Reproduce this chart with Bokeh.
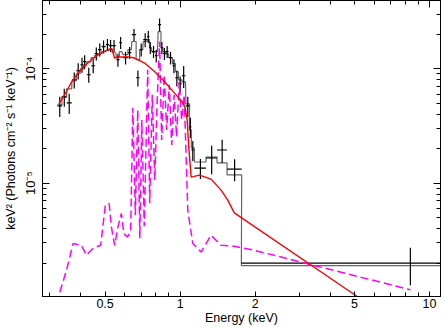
from bokeh.plotting import figure
from bokeh.models import FixedTicker, LogAxis, Range1d, CustomJSTickFormatter
from bokeh.embed import file_html
from bokeh.resources import INLINE

# ---- data (energy bins in keV, flux in keV^2 Photons cm^-2 s^-1 keV^-1) ----
e_cen = [0.329, 0.343, 0.359, 0.376, 0.390, 0.404, 0.414, 0.430, 0.448, 0.461,
         0.476, 0.493, 0.511, 0.526, 0.543, 0.563, 0.577, 0.604, 0.627, 0.653,
         0.677, 0.698, 0.724, 0.745, 0.759, 0.782, 0.802, 0.827, 0.845, 0.865,
         0.887, 0.915, 0.944, 0.970, 1.000, 1.033, 1.073, 1.099, 1.124,
         1.2055, 1.338, 1.474, 1.6535, 8.38]
e_hw = [0.007, 0.0075, 0.0085, 0.008, 0.007, 0.006, 0.006, 0.008, 0.008, 0.007,
        0.008, 0.009, 0.008, 0.008, 0.009, 0.008, 0.007, 0.014, 0.010, 0.013,
        0.011, 0.010, 0.013, 0.008, 0.006, 0.012, 0.009, 0.011, 0.008, 0.011,
        0.012, 0.015, 0.013, 0.014, 0.016, 0.017, 0.018, 0.010, 0.015,
        0.0645, 0.068, 0.068, 0.1115, 6.62]
flux = [4.74e-5, 5.68e-5, 5.03e-5, 8.01e-5, 9.60e-5, 1.084e-4, 1.152e-4, 8.86e-5, 1.062e-4, 1.354e-4,
        1.468e-4, 1.560e-4, 1.624e-4, 1.592e-4, 1.592e-4, 1.199e-4, 1.691e-4, 1.249e-4, 1.382e-4, 1.988e-4,
        8.34e-5, 1.468e-4, 1.796e-4, 1.909e-4, 1.528e-4, 1.410e-4, 1.300e-4, 2.432e-4, 1.528e-4, 1.354e-4,
        1.410e-4, 1.249e-4, 1.062e-4, 8.34e-5, 7.39e-5, 8.68e-5, 4.74e-5, 3.10e-5, 1.948e-5,
        1.354e-5, 1.658e-5, 1.948e-5, 1.327e-5, 2.0e-6]
flux_err = [0.95e-5, 1.02e-5, 1.01e-5, 1.28e-5, 1.54e-5, 1.63e-5, 1.61e-5, 1.33e-5, 1.49e-5, 1.76e-5,
            1.91e-5, 2.03e-5, 1.95e-5, 1.91e-5, 1.91e-5, 1.56e-5, 2.03e-5, 1.62e-5, 1.66e-5, 2.39e-5,
            1.33e-5, 1.91e-5, 2.51e-5, 2.29e-5, 1.83e-5, 1.69e-5, 1.69e-5, 3.16e-5, 1.83e-5, 1.62e-5,
            1.69e-5, 1.62e-5, 1.49e-5, 1.33e-5, 1.18e-5, 1.91e-5, 0.95e-5, 0.62e-5, 0.39e-5,
            0.27e-5, 0.46e-5, 0.45e-5, 0.29e-5, 0.072e-5]
model_step = [4.83e-5, 5.68e-5, 6.68e-5, 7.85e-5, 9.04e-5, 1.00e-4, 1.06e-4, 1.15e-4, 1.25e-4, 1.30e-4,
              1.35e-4, 1.41e-4, 1.45e-4, 1.48e-4, 1.38e-4, 1.27e-4, 1.41e-4, 1.33e-4, 1.47e-4, 1.73e-4,
              1.20e-4, 1.47e-4, 1.73e-4, 1.80e-4, 1.53e-4, 1.41e-4, 1.41e-4, 2.11e-4, 1.53e-4, 1.41e-4,
              1.35e-4, 1.25e-4, 1.11e-4, 9.41e-5, 8.0e-5, 7.69e-5, 4.93e-5, 2.92e-5, 2.03e-5,
              1.53e-5, 1.69e-5, 1.50e-5, 1.18e-5, 1.90e-6]

# continuum component (red)
red_e = [0.326, 0.334, 0.350, 0.366, 0.390, 0.414, 0.441, 0.469, 0.498, 0.522,
         0.532, 0.546, 0.567, 0.618, 0.657, 0.720, 0.789, 0.865, 0.949, 1.019,
         1.047, 1.067, 1.081, 1.107, 1.195, 1.330, 1.459, 1.552, 1.649, 5.06, 11.07]
red_f = [4.93e-5, 5.35e-5, 6.32e-5, 7.58e-5, 9.17e-5, 1.062e-4, 1.199e-4, 1.327e-4, 1.418e-4, 1.483e-4,
         1.497e-4, 1.241e-4, 1.266e-4, 1.266e-4, 1.241e-4, 1.122e-4, 9.47e-5, 7.74e-5, 6.12e-5, 5.14e-5,
         4.55e-5, 3.57e-5, 2.154e-5, 1.129e-5, 1.175e-5, 1.084e-5, 8.68e-6, 7.09e-6, 5.49e-6, 1.041e-6, 3.26e-7]

# line-emission component (magenta dashed)
mag_e = [0.329, 0.350, 0.372, 0.402, 0.421, 0.448, 0.480, 0.501, 0.519, 0.530,
         0.546, 0.563, 0.581, 0.595, 0.614, 0.633, 0.646, 0.661, 0.676, 0.689,
         0.702, 0.718, 0.741, 0.755, 0.773, 0.791, 0.809, 0.827, 0.843, 0.863,
         0.883, 0.904, 0.925, 0.946, 0.968, 0.991, 1.014, 1.038, 1.073, 1.124,
         1.213, 1.330, 1.459, 1.649, 1.983, 8.39]
mag_f = [1.113e-6, 1.725e-6, 2.96e-6, 2.86e-6, 2.335e-6, 2.707e-6, 2.86e-6, 6.41e-6, 6.64e-6, 4.14e-6,
         2.86e-6, 4.14e-6, 5.42e-6, 3.62e-6, 3.38e-6, 3.74e-6, 4.55e-5, 5.24e-6, 4.37e-5, 3.29e-6,
         3.57e-5, 4.20e-6, 9.80e-5, 6.68e-6, 5.91e-5, 1.062e-5, 5.35e-5, 1.725e-4, 2.383e-5, 8.86e-5,
         2.917e-5, 7.24e-5, 2.154e-5, 5.91e-5, 2.532e-5, 7.69e-5, 3.57e-5, 5.91e-5, 5.80e-6, 2.96e-6,
         2.496e-6, 3.50e-6, 2.86e-6, 2.80e-6, 2.585e-6, 1.168e-6]

x_major = [0.5, 1, 2, 5, 10]
x_labels = ["0.5", "1", "2", "5", "10"]
x_minor = [0.3, 0.4, 0.6, 0.7, 0.8, 0.9, 3, 4, 6, 7, 8, 9]
y_major = [1e-5, 1e-4]
y_labels = ["10\u207b\u2075", "10\u207b\u2074"]
y_minor = [2e-6, 3e-6, 4e-6, 5e-6, 6e-6, 7e-6, 8e-6, 9e-6,
           2e-5, 3e-5, 4e-5, 5e-5, 6e-5, 7e-5, 8e-5, 9e-5, 2e-4, 3e-4]

FONT = "Liberation Sans"

p = figure(width=444, height=327, x_axis_type="log", y_axis_type="log",
           x_range=Range1d(0.2805, 11.07), y_range=Range1d(1.02e-6, 3.95e-4),
           output_backend="svg", toolbar_location=None,
           min_border_left=0, min_border_right=4, min_border_top=0, min_border_bottom=0)
p.grid.visible = False
p.outline_line_color = "black"
p.outline_line_width = 1
p.background_fill_color = "white"
p.border_fill_color = "white"


def style_axis(ax):
    ax.axis_line_color = "black"
    ax.major_tick_in = 7
    ax.major_tick_out = 0
    ax.minor_tick_in = 4
    ax.minor_tick_out = 0
    ax.major_tick_line_color = "black"
    ax.minor_tick_line_color = "black"
    ax.major_label_text_font = FONT
    ax.major_label_text_color = "black"
    ax.major_label_text_font_size = "12.5px"
    ax.axis_label_text_font = FONT
    ax.axis_label_text_font_style = "normal"
    ax.axis_label_text_color = "black"
    ax.axis_label_text_font_size = "12.5px"


JS_LABELS = """
    for (let i = 0; i < vals.length; i++) {
        if (Math.abs(Math.log10(tick) - Math.log10(vals[i])) < 1e-6) return labs[i];
    }
    return "";
"""

xa = p.xaxis[0]
xa.ticker = FixedTicker(ticks=x_major, minor_ticks=x_minor)
xa.formatter = CustomJSTickFormatter(args=dict(vals=x_major, labs=x_labels), code=JS_LABELS)
xa.axis_label = "Energy (keV)"
style_axis(xa)
xa.major_tick_in = 5
xa.major_label_standoff = 2
xa.axis_label_standoff = 0

ya = p.yaxis[0]
ya.ticker = FixedTicker(ticks=y_major, minor_ticks=y_minor)
ya.formatter = CustomJSTickFormatter(args=dict(vals=y_major, labs=y_labels), code=JS_LABELS)
ya.axis_label = "keV\u00b2 (Photons cm\u207b\u00b2 s\u207b\u00b9 keV\u207b\u00b9)"
style_axis(ya)
ya.major_label_text_font_size = "13px"
ya.major_label_orientation = "vertical"
ya.major_label_standoff = 4
ya.axis_label_standoff = 3

top = LogAxis(ticker=FixedTicker(ticks=[1, 10], minor_ticks=x_minor + [0.5, 2, 5]),
              formatter=CustomJSTickFormatter(code="return '';"))
style_axis(top)
top.major_label_text_font_size = "2px"
top.major_label_standoff = 0
p.add_layout(top, "above")
right = LogAxis(ticker=FixedTicker(ticks=y_major, minor_ticks=y_minor),
                formatter=CustomJSTickFormatter(code="return '';"))
style_axis(right)
right.major_label_text_font_size = "2px"
right.major_label_standoff = 0
p.add_layout(right, "right")

# model step (gray)
step_x, step_y = [], []
for c, h, m in zip(e_cen, e_hw, model_step):
    step_x += [c - h, c + h]
    step_y += [m, m]
p.line(step_x, step_y, line_color="#666666", line_width=1.2)

# data crosses
x0 = [c - h for c, h in zip(e_cen, e_hw)]
x1 = [c + h for c, h in zip(e_cen, e_hw)]
p.segment(x0=x0, y0=flux, x1=x1, y1=flux, line_color="black", line_width=1.2)
ylo = [f - e for f, e in zip(flux, flux_err)]
yhi = [f + e for f, e in zip(flux, flux_err)]
p.segment(x0=e_cen, y0=ylo, x1=e_cen, y1=yhi, line_color="black", line_width=1.2)

# components
p.line(mag_e, mag_f, line_color="#ff00ff", line_width=1.5, line_dash="8 4")
p.line(red_e, red_f, line_color="#ff0000", line_width=1.4)

open("out.html", "w").write(file_html(p, INLINE))
